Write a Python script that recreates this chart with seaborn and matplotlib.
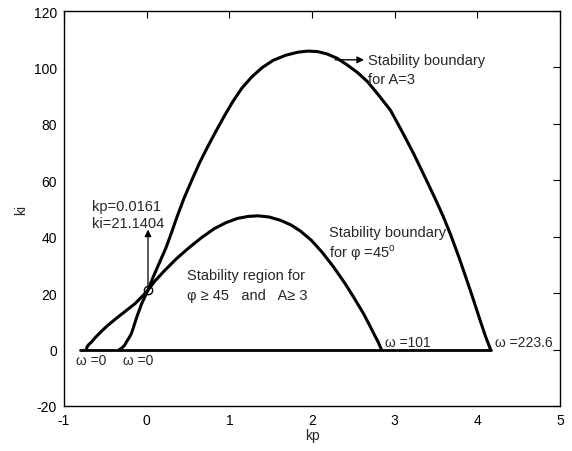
import matplotlib
matplotlib.use("Agg")
import matplotlib.pyplot as plt
import seaborn as sns
import pandas as pd

# --- data ---
# stability boundary for A = 3 (outer curve)
kp_A3 = [-0.33, -0.30, -0.27, -0.245, -0.21, -0.185, -0.165, -0.12, -0.06, 0.016,
         0.08, 0.15, 0.23, 0.30, 0.37, 0.45, 0.55, 0.64, 0.74, 0.84, 0.94, 1.04,
         1.15, 1.27, 1.40, 1.53, 1.68, 1.83, 1.95, 2.07, 2.18, 2.30, 2.42, 2.55,
         2.67, 2.80, 2.95, 3.08, 3.23, 3.36, 3.49, 3.59, 3.68, 3.78, 3.88, 3.96,
         4.04, 4.10, 4.16]
ki_A3 = [0.0, 0.6, 1.4, 2.7, 4.3, 5.7, 7.4, 11.5, 16.3, 21.1,
         25.8, 30.5, 35.8, 41.4, 47.3, 53.5, 60.3, 66.2, 72.0, 77.5, 82.8, 87.8,
         92.6, 96.6, 100.0, 102.5, 104.3, 105.4, 105.8, 105.6, 104.8, 103.3, 101.0, 98.2,
         95.0, 90.4, 84.8, 77.8, 69.4, 61.5, 53.5, 47.0, 40.5, 32.5, 24.0, 17.0,
         9.8, 4.6, 0.0]

# stability boundary for phi = 45 deg (inner curve)
kp_phi = [-0.73, -0.72, -0.70, -0.67, -0.62, -0.55, -0.47, -0.37, -0.27, -0.14,
          -0.05, 0.016, 0.10, 0.22, 0.36, 0.50, 0.66, 0.82, 0.96, 1.10, 1.23,
          1.35, 1.48, 1.62, 1.75, 1.86, 1.99, 2.12, 2.26, 2.40, 2.48, 2.55,
          2.62, 2.69, 2.75, 2.80, 2.84]
ki_phi = [0.0, 1.0, 1.8, 2.6, 4.3, 6.4, 8.6, 11.0, 13.3, 16.3,
          19.0, 21.1, 24.3, 28.1, 32.2, 35.8, 39.6, 42.9, 45.0, 46.5, 47.2,
          47.4, 47.0, 45.8, 44.1, 42.0, 38.8, 34.6, 29.3, 23.4, 19.7, 16.3,
          12.9, 9.0, 5.5, 2.7, 0.0]

# kp axis segment at ki = 0
kp_base = [-0.81, 4.16]
ki_base = [0.0, 0.0]

pt_kp, pt_ki = 0.0161, 21.1404

x_ticks = [-1, 0, 1, 2, 3, 4, 5]
y_ticks = [-20, 0, 20, 40, 60, 80, 100, 120]

sns.set_style("white")
plt.rcParams['font.family'] = ['Liberation Sans', 'DejaVu Sans']
plt.rcParams['mathtext.fontset'] = 'custom'
plt.rcParams['mathtext.rm'] = 'Liberation Sans'

fig = plt.figure(figsize=(5.72, 4.52), dpi=100)
ax = fig.add_axes([64/572, 1-407/452, (560-64)/572, (407-12)/452])

df_a = pd.DataFrame({"kp": kp_A3, "ki": ki_A3})
df_p = pd.DataFrame({"kp": kp_phi, "ki": ki_phi})
df_b = pd.DataFrame({"kp": kp_base, "ki": ki_base})
kw = dict(sort=False, color="black", ax=ax, solid_joinstyle="round", solid_capstyle="round")
sns.lineplot(data=df_a, x="kp", y="ki", lw=2.2, **kw)
sns.lineplot(data=df_p, x="kp", y="ki", lw=2.2, **kw)
sns.lineplot(data=df_b, x="kp", y="ki", lw=2.0, **kw)
ax.plot([pt_kp], [pt_ki], marker="o", ms=6, mfc="none", mec="black", mew=1.0)

ax.set_xlim(-1, 5)
ax.set_ylim(-20, 120)
ax.set_xticks(x_ticks)
ax.set_yticks(y_ticks)
ax.set_xticklabels([str(t) for t in x_ticks])
ax.set_yticklabels([str(t) for t in y_ticks])
ax.tick_params(direction="in", length=5, width=0.8, top=True, right=True,
               labelsize=10, pad=5, colors="black")
for s in ax.spines.values():
    s.set_visible(True)
    s.set_color("black")
    s.set_linewidth(1.0)
ax.set_xlabel("kp", fontsize=10, labelpad=1)
ax.set_ylabel("ki", fontsize=10, labelpad=4)

fs = 10.5
ax.text(-0.66, 51, "kp=0.0161", fontsize=fs, va="center", ha="left")
ax.text(-0.66, 44.7, "ki=21.1404", fontsize=fs, va="center", ha="left")
ax.annotate("", xy=(pt_kp, 42.5), xytext=(pt_kp, pt_ki + 1.5),
            arrowprops=dict(arrowstyle="-|>", color="black", lw=0.9,
                            mutation_scale=10, shrinkA=0, shrinkB=0))
ax.text(0.49, 26.6, "Stability region for", fontsize=fs, va="center", ha="left")
ax.text(0.49, 19.2, "φ ≥ 45   and   A≥ 3", fontsize=fs, va="center", ha="left")
ax.text(2.2, 41.8, "Stability boundary", fontsize=fs, va="center", ha="left")
ax.text(2.2, 34.7, r"for φ =45$^{\mathrm{o}}$", fontsize=fs, va="center", ha="left")
ax.text(2.68, 102.5, "Stability boundary", fontsize=fs, va="center", ha="left")
ax.text(2.68, 96.0, "for A=3", fontsize=fs, va="center", ha="left")
ax.annotate("", xy=(2.63, 102.7), xytext=(2.28, 102.7),
            arrowprops=dict(arrowstyle="-|>", color="black", lw=1.0,
                            mutation_scale=10, shrinkA=0, shrinkB=0))
ax.text(-0.85, -3.8, "ω =0", fontsize=10, va="center", ha="left")
ax.text(-0.29, -3.8, "ω =0", fontsize=10, va="center", ha="left")
ax.text(2.88, 2.6, "ω =101", fontsize=10, va="center", ha="left")
ax.text(4.21, 2.6, "ω =223.6", fontsize=10, va="center", ha="left")

fig.savefig("out.png", dpi=100, facecolor="white")
